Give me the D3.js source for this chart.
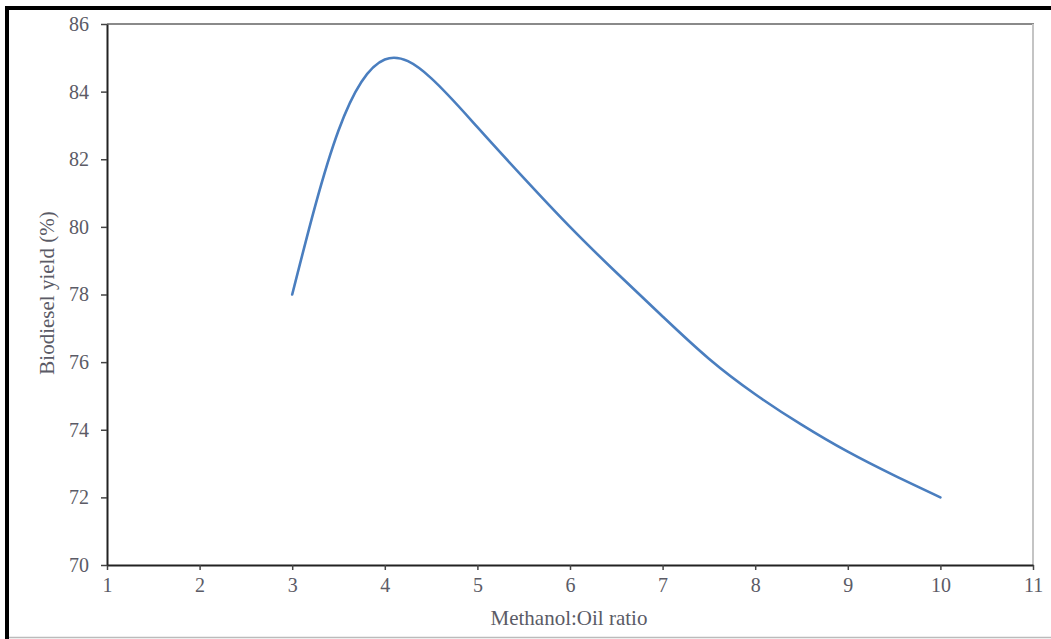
<!DOCTYPE html>
<html>
<head>
<meta charset="utf-8">
<script src="https://cdn.jsdelivr.net/npm/d3@7"></script>
<style>
html,body{margin:0;padding:0;background:#fff;}
svg{display:block;}
</style>
</head>
<body>
<svg id="chart" width="1051" height="639"></svg>
<script>
// Data
const ratio = [3, 3.5, 4, 4.5, 5, 5.5, 6, 6.5, 7, 7.5, 8, 8.5, 9, 9.5, 10];
const yieldPct = [78, 82.85, 84.95, 84.4, 82.95, 81.45, 80.0, 78.65, 77.35, 76.1, 75.05, 74.15, 73.35, 72.65, 72.0];
const xTicks = [1, 2, 3, 4, 5, 6, 7, 8, 9, 10, 11];
const yTicks = [70, 72, 74, 76, 78, 80, 82, 84, 86];
const xLabel = "Methanol:Oil ratio";
const yLabel = "Biodiesel yield (%)";

const svg = d3.select("#chart");
const W = 1051, H = 639;
const m = {left: 107, right: 1033, top: 24, bottom: 565};

// frame
svg.append("line").attr("x1", 7).attr("x2", 7).attr("y1", 6).attr("y2", 639)
  .attr("stroke", "#000").attr("stroke-width", 4);
svg.append("line").attr("x1", 5).attr("x2", W).attr("y1", 8).attr("y2", 8)
  .attr("stroke", "#000").attr("stroke-width", 4);
svg.append("line").attr("x1", 9).attr("x2", W).attr("y1", 637.5).attr("y2", 637.5)
  .attr("stroke", "#bbb").attr("stroke-width", 1.5);

const x = d3.scaleLinear().domain([1, 11]).range([m.left, m.right]);
const y = d3.scaleLinear().domain([70, 86]).range([m.bottom, m.top]);

const font = "'Liberation Serif', 'Times New Roman', serif";
const txt = "#5b5b66";

// plot frame top/right
svg.append("line").attr("x1", m.left).attr("x2", m.right + 1).attr("y1", m.top).attr("y2", m.top)
  .attr("stroke", "#8a8a8a").attr("stroke-width", 2);
svg.append("line").attr("x1", m.right).attr("x2", m.right).attr("y1", m.top).attr("y2", m.bottom)
  .attr("stroke", "#c4c4c4").attr("stroke-width", 2);

const xAxis = svg.append("g").attr("transform", `translate(0,${m.bottom})`)
  .call(d3.axisBottom(x).tickValues(xTicks).tickSize(5).tickSizeOuter(0).tickPadding(8).tickFormat(d3.format("d")));
const yAxis = svg.append("g").attr("transform", `translate(${m.left},0)`)
  .call(d3.axisLeft(y).tickValues(yTicks).tickSize(6).tickSizeOuter(0).tickPadding(12).tickFormat(d3.format("d")));

[xAxis, yAxis].forEach(g => {
  g.attr("font-family", font);
  g.select(".domain").attr("stroke", "#222").attr("stroke-width", 2);
  g.selectAll(".tick line").attr("stroke", "#444").attr("stroke-width", 1.5);
  g.selectAll(".tick text").attr("fill", txt).style("font-family", font).style("font-size", "20px");
});

// line
const line = d3.line().x((d, i) => x(ratio[i])).y(d => y(d)).curve(d3.curveNatural);
svg.append("path").datum(yieldPct).attr("d", line)
  .attr("fill", "none").attr("stroke", "#4a7ebf").attr("stroke-width", 2.6)
  .attr("stroke-linejoin", "round").attr("stroke-linecap", "round");

// labels
svg.append("text").attr("x", 569).attr("y", 625).attr("text-anchor", "middle")
  .attr("fill", txt).style("font-family", font).style("font-size", "21px").text(xLabel);
svg.append("text").attr("transform", "translate(54,293) rotate(-90)").attr("text-anchor", "middle")
  .attr("fill", txt).style("font-family", font).style("font-size", "21px").text(yLabel);
</script>
</body>
</html>
